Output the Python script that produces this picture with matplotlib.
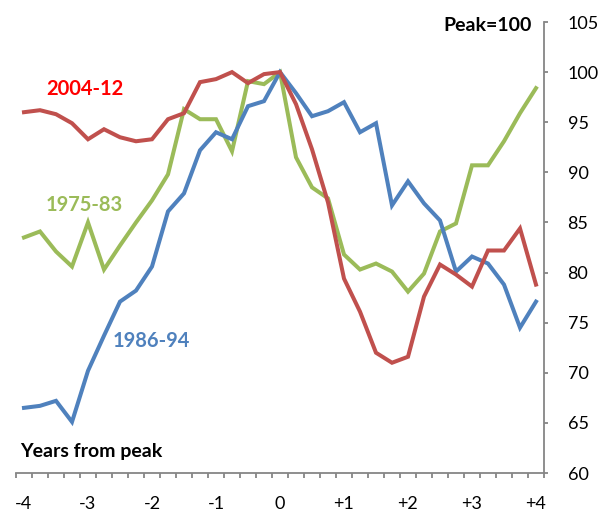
import numpy as np
import matplotlib
matplotlib.use("Agg")
import matplotlib.pyplot as plt
from matplotlib.ticker import FixedLocator

# 季度数据: 从 -4 年到 +4 年, 峰值 = 100
quarters = np.arange(33) / 4 - 4

series_2004_12 = [96.0, 96.2, 95.8, 94.9, 93.3, 94.3, 93.5, 93.1, 93.3, 95.3, 95.9,
                  99.0, 99.3, 100.0, 98.9, 99.8, 100.0, 96.8, 92.3, 87.0, 79.4, 76.1,
                  72.0, 71.0, 71.6, 77.6, 80.8, 79.8, 78.6, 82.2, 82.2, 84.4, 78.8]
series_1975_83 = [83.5, 84.1, 82.1, 80.6, 85.0, 80.3, 82.7, 85.0, 87.2, 89.8, 96.3,
                  95.3, 95.3, 92.1, 99.1, 98.8, 100.0, 91.5, 88.5, 87.4, 81.8, 80.3,
                  80.9, 80.1, 78.1, 79.9, 84.1, 84.9, 90.7, 90.7, 93.1, 95.9, 98.4]
series_1986_94 = [66.5, 66.7, 67.2, 65.1, 70.2, 73.7, 77.1, 78.2, 80.6, 86.1, 87.9,
                  92.2, 94.0, 93.3, 96.6, 97.1, 100.0, 97.9, 95.6, 96.1, 97.0, 94.0,
                  94.9, 86.7, 89.1, 86.9, 85.2, 80.1, 81.6, 80.9, 78.8, 74.5, 77.1]

year_ticks = [-4, -3, -2, -1, 0, 1, 2, 3, 4]
year_labels = ["-4", "-3", "-2", "-1", "0", "+1", "+2", "+3", "+4"]
y_ticks = [60, 65, 70, 75, 80, 85, 90, 95, 100, 105]

RED = "#C0504D"
GREEN = "#9BBB59"
BLUE = "#4F81BD"
GRAY = "#868686"


def plot_chart():
    plt.rcParams['font.family'] = ['Lato', 'DejaVu Sans']

    fig = plt.figure(figsize=(6.07, 5.11), dpi=100)
    ax = fig.add_axes([16 / 607, 38 / 511, 528 / 607, 451 / 511])

    lw = 2.9
    ax.plot(quarters, series_1975_83, color=GREEN, lw=lw, solid_joinstyle='miter')
    ax.plot(quarters, series_1986_94, color=BLUE, lw=lw, solid_joinstyle='miter')
    ax.plot(quarters, series_2004_12, color=RED, lw=lw, solid_joinstyle='miter')

    ax.set_xlim(-4.125, 4.125)
    ax.set_ylim(60, 105)

    # 坐标轴样式
    for side in ['top', 'left']:
        ax.spines[side].set_visible(False)
    for side in ['right', 'bottom']:
        ax.spines[side].set_color(GRAY)
        ax.spines[side].set_linewidth(1.3)

    ax.yaxis.tick_right()
    ax.set_yticks(y_ticks)
    ax.tick_params(axis='y', direction='out', length=3, width=1.3, color=GRAY,
                   labelsize=13, pad=14)

    ax.set_xticks(year_ticks)
    ax.set_xticklabels(year_labels)
    ax.xaxis.set_minor_locator(FixedLocator(np.arange(34) / 4 - 4.125))
    ax.tick_params(axis='x', which='major', length=0, labelsize=13, pad=16.5)
    ax.tick_params(axis='x', which='minor', direction='out', length=3.5, width=1.3, color=GRAY)

    # 标注
    ax.text(-3.66, 98.3, "2004-12", color="#FF0000", fontsize=14.5, fontweight='bold',
            ha='left', va='center')
    ax.text(-3.66, 86.7, "1975-83", color=GREEN, fontsize=14.5, fontweight='bold',
            ha='left', va='center')
    ax.text(-2.61, 73.2, "1986-94", color=BLUE, fontsize=14.5, fontweight='bold',
            ha='left', va='center')
    ax.text(3.94, 104.7, "Peak=100", color="black", fontsize=14, fontweight='bold',
            ha='right', va='center')
    ax.text(-4.06, 62.1, "Years from peak", color="black", fontsize=14, fontweight='bold',
            ha='left', va='center')

    fig.savefig("out.png", dpi=100)


def main():
    plot_chart()


if __name__ == "__main__":
    main()
